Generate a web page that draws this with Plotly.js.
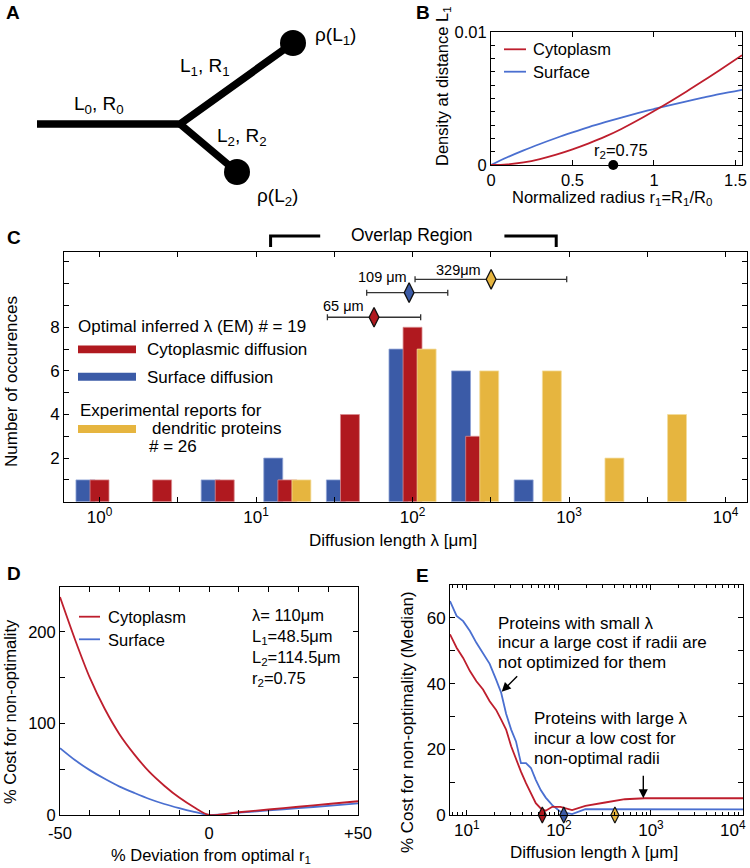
<!DOCTYPE html>
<html><head><meta charset="utf-8">
<script src="https://cdn.plot.ly/plotly-3.0.1.min.js"></script>
<style>html,body{margin:0;padding:0;background:#fff}#chart{width:750px;height:868px}</style>
</head><body><div id="chart"></div>
<script>
// ---------- Panel A (schematic) ----------
const diagramX = [37, 180, 293, null, 180, 237];
const diagramY = [124, 124, 43, null, 124, 172];
const tipX = [293, 237];
const tipY = [43, 172];

// ---------- Panel B ----------
const radiusB   = [0, 0.1, 0.2, 0.3, 0.4, 0.5, 0.6, 0.7, 0.8, 0.9, 1.0, 1.1, 1.2, 1.3, 1.4, 1.54];
const densCytB  = [0, 0.00005, 0.0002, 0.00045, 0.00078, 0.00118, 0.00163, 0.00213, 0.00271, 0.00336, 0.00406, 0.00478, 0.00553, 0.00631, 0.00711, 0.00825];
const densSurfB = [0, 0.00058, 0.0011, 0.00158, 0.00203, 0.00245, 0.00285, 0.00322, 0.00357, 0.0039, 0.00421, 0.00451, 0.00479, 0.00506, 0.00532, 0.00565];
const r2Value = 0.75;

// ---------- Panel C ----------
const binLog10   = [0, 0.4, 0.8, 1.2, 1.6, 2.0, 2.4, 2.8, 3.2, 3.6];
const countSurf  = [1, null, 1, 2, 1, 7, 6, 1, null, null];
const countCyt   = [1, 1, 1, 1, 4, 8, 3, null, null, null];
const countExp   = [null, null, null, 1, null, 7, 6, 6, 2, 4];
const optNames   = ['Cytoplasm', 'Surface', 'Experimental'];
const optLog10   = [1.754, 1.978, 2.502];
const optLowLog10  = [1.456, 1.707, 2.016];
const optHighLog10 = [2.052, 2.225, 2.985];
const optRow     = [8.46, 9.59, 10.2];
const optLabels  = ['65 μm', '109 μm', '329μm'];
const overlapLog10 = [1.093, 2.918];

// ---------- Panel D ----------
const devD  = [-50, -45, -40, -35, -30, -25, -20, -15, -10, -5, 0, 10, 20, 30, 40, 50];
const costCytD  = [238, 192, 150, 116, 88, 66, 47, 32, 19, 8.5, 0, 3, 6, 9, 12, 15];
const costSurfD = [73, 60, 49, 39.5, 31, 24, 17.5, 12, 7.5, 3.5, 0, 2.5, 5, 7.5, 10, 12.7];

// ---------- Panel E ----------
const lambdaE = [6.56, 7.74, 9.12, 10.8, 12.7, 15.0, 17.7, 20.8, 23.6, 26.7, 30.3, 34.2, 38.7, 43.9, 49.7, 56.1, 63.5, 71.9, 84.7, 104, 139, 194, 318, 521, 855, 10000];
const costCytE  = [55, 50.9, 47.8, 43.8, 40.7, 38.2, 34.6, 32, 29, 26, 20.9, 16.8, 13.2, 9.7, 6.6, 3.6, 2, 1.3, 2.5, 2.5, 1.5, 2.8, 3.8, 4.8, 5.1, 5.1];
const costSurfE = [65.1, 60.6, 59, 56, 52.4, 49, 46, 41.2, 37.2, 30.8, 26, 22.4, 15.8, 15.8, 14.3, 10.7, 7.6, 5.3, 3, 1.0, 0.3, 1.8, 1.8, 1.7, 1.7, 1.7];
const optLambdaE = [66, 113, 406];
const decadesE = [10, 100, 1000, 10000];

// ---------- styling ----------
const W = 750, H = 868;
const px = v => v / W;
const py = v => 1 - v / H;
const FONT = 'Liberation Sans, Arial, Helvetica, sans-serif';
const LRED = '#BE1E2D', LBLUE = '#4A6FD0';
const BRED = '#B0191F', BBLUE = '#3B5BA7', BYEL = '#E6B53F';
const diaColors = [BRED, BBLUE, BYEL];

const traces = [];
// A
traces.push({x: diagramX, y: diagramY, xaxis: 'x5', yaxis: 'y5', mode: 'lines',
  line: {color: '#000', width: 7.5}, hoverinfo: 'skip', showlegend: false});
traces.push({x: tipX, y: tipY, xaxis: 'x5', yaxis: 'y5', mode: 'markers',
  marker: {color: '#000', size: 26}, hoverinfo: 'skip', showlegend: false});
// B
traces.push({x: radiusB, y: densSurfB, xaxis: 'x', yaxis: 'y', mode: 'lines', line: {color: LBLUE, width: 1.8, shape: 'spline'}, showlegend: false});
traces.push({x: radiusB, y: densCytB, xaxis: 'x', yaxis: 'y', mode: 'lines', line: {color: LRED, width: 1.8, shape: 'spline'}, showlegend: false});
traces.push({x: [r2Value], y: [0], xaxis: 'x', yaxis: 'y', mode: 'markers', marker: {color: '#000', size: 10}, cliponaxis: false, showlegend: false});
// C bars
const bw = 0.121;
traces.push({type: 'bar', x: binLog10, y: countSurf, xaxis: 'x2', yaxis: 'y2', width: bw, offset: -0.09 - bw / 2,
  marker: {color: BBLUE, line: {color: '#8fa3d6', width: 0.8}}, showlegend: false});
traces.push({type: 'bar', x: binLog10, y: countCyt, xaxis: 'x2', yaxis: 'y2', width: bw, offset: -bw / 2,
  marker: {color: BRED, line: {color: '#d98a8e', width: 0.8}}, showlegend: false});
traces.push({type: 'bar', x: binLog10, y: countExp, xaxis: 'x2', yaxis: 'y2', width: bw, offset: 0.09 - bw / 2,
  marker: {color: BYEL, line: {color: '#f3dc9c', width: 0.8}}, showlegend: false});
// C diamonds with ranges
traces.push({x: optLog10, y: optRow, xaxis: 'x2', yaxis: 'y2', mode: 'markers', cliponaxis: false,
  error_x: {type: 'data', symmetric: false,
    array: optHighLog10.map((h, i) => h - optLog10[i]),
    arrayminus: optLowLog10.map((l, i) => optLog10[i] - l),
    color: '#333', thickness: 1.3, width: 3},
  marker: {symbol: 'diamond-tall', size: 14, color: diaColors, line: {color: '#111', width: 1.3}}, showlegend: false});
// D
traces.push({x: devD, y: costSurfD, xaxis: 'x3', yaxis: 'y3', mode: 'lines', line: {color: LBLUE, width: 1.8, shape: 'spline', smoothing: 0.8}, showlegend: false});
traces.push({x: devD, y: costCytD, xaxis: 'x3', yaxis: 'y3', mode: 'lines', line: {color: LRED, width: 1.8, shape: 'spline', smoothing: 0.8}, showlegend: false});
// E
traces.push({x: lambdaE, y: costSurfE, xaxis: 'x4', yaxis: 'y4', mode: 'lines', line: {color: LBLUE, width: 1.8}, showlegend: false});
traces.push({x: lambdaE, y: costCytE, xaxis: 'x4', yaxis: 'y4', mode: 'lines', line: {color: LRED, width: 1.8}, showlegend: false});
traces.push({x: optLambdaE, y: [0, 0, 0], xaxis: 'x4', yaxis: 'y4', mode: 'markers', cliponaxis: false,
  marker: {symbol: 'diamond-tall', size: 11.5, color: diaColors, line: {color: '#111', width: 1.2}}, showlegend: false});

const axBase = {showline: true, linecolor: '#000', linewidth: 1, mirror: 'ticks', ticks: 'inside', ticklen: 5,
  tickcolor: '#000', showgrid: false, zeroline: false, fixedrange: true,
  tickfont: {family: FONT, size: 16.5, color: '#000'}};
const range = (a, b, s) => { const r = []; for (let v = a; v <= b + 1e-9; v += s) r.push(+v.toFixed(6)); return r; };

const yTicksB = range(0, 0.01, 0.001);
const xTicksC = range(0, 4, 0.5);
const yTicksC = range(1, 11, 1);
const xTicksD = range(-50, 50, 10);
const yTicksD = range(0, 250, 50);
const yTicksE = range(0, 70, 10);
const minorE = [];
[1, 10, 100, 1000].forEach(d => { for (let k = 2; k <= 9; k++) minorE.push(k * d); });

const layout = {
  width: W, height: H, margin: {l: 0, r: 0, t: 0, b: 0}, paper_bgcolor: '#fff', plot_bgcolor: '#fff',
  barmode: 'overlay', showlegend: false, font: {family: FONT, color: '#000'},
  // B
  xaxis: Object.assign({}, axBase, {domain: [px(491), px(742)], range: [0, 1.54], anchor: 'y',
    tickvals: [0, 0.5, 1, 1.5], ticktext: ['0', '0.5', '1', '1.5']}),
  yaxis: Object.assign({}, axBase, {domain: [py(165), py(32)], range: [0, 0.01], anchor: 'x',
    tickvals: yTicksB, ticktext: yTicksB.map(v => v === 0 ? '0' : (Math.abs(v - 0.01) < 1e-9 ? '0.01' : '')), ticklen: 4}),
  // C
  xaxis2: Object.assign({}, axBase, {domain: [px(64), px(747)], range: [-0.227, 4.137], anchor: 'y2',
    tickvals: xTicksC, ticktext: xTicksC.map(v => Number.isInteger(v) ? '10<sup>' + v + '</sup>' : ''),
    tickfont: {family: FONT, size: 17, color: '#000'}}),
  yaxis2: Object.assign({}, axBase, {domain: [py(501.7), py(252.3)], range: [0, 11.44], anchor: 'x2',
    tickvals: yTicksC, ticktext: yTicksC.map(v => [2, 4, 6, 8].includes(v) ? String(v) : ''),
    tickfont: {family: FONT, size: 17, color: '#000'}}),
  // D
  xaxis3: Object.assign({}, axBase, {domain: [px(60), px(358)], range: [-50, 50], anchor: 'y3',
    tickvals: xTicksD, ticktext: xTicksD.map(v => v === -50 ? '-50' : v === 0 ? '0' : v === 50 ? '+50' : ''),
    ticklabelstandoff: 3}),
  yaxis3: Object.assign({}, axBase, {domain: [py(815), py(587)], range: [0, 249], anchor: 'x3',
    tickvals: yTicksD, ticktext: yTicksD.map(v => [0, 100, 200].includes(v) ? String(v) : '')}),
  // E
  xaxis4: Object.assign({}, axBase, {domain: [px(450), px(743)], type: 'log', range: [0.817, 4.0], anchor: 'y4',
    tickvals: decadesE, ticktext: decadesE.map(d => d === 10000 ? '' : '10<sup>' + Math.round(Math.log10(d)) + '</sup>'),
    tickfont: {family: FONT, size: 17, color: '#000'},
    minor: {tickvals: minorE, ticks: 'inside', ticklen: 3, tickcolor: '#000', showgrid: false}}),
  yaxis4: Object.assign({}, axBase, {domain: [py(815), py(585)], range: [0, 70], anchor: 'x4',
    tickvals: yTicksE, ticktext: yTicksE.map(v => [0, 20, 40, 60].includes(v) ? String(v) : ''),
    tickfont: {family: FONT, size: 17, color: '#000'}}),
  // A (hidden)
  xaxis5: {domain: [0, px(380)], range: [0, 380], visible: false, fixedrange: true, anchor: 'y5'},
  yaxis5: {domain: [py(215), 1], range: [215, 0], visible: false, fixedrange: true, anchor: 'x5'},
  annotations: [], shapes: []
};

function txt(text, x, y, o) {
  o = o || {};
  layout.annotations.push({text: text, xref: 'paper', yref: 'paper', x: px(x), y: py(y), showarrow: false,
    xanchor: o.xa || 'center', yanchor: o.ya || 'middle', textangle: o.angle || 0,
    font: {family: FONT, size: o.size || 16.5, color: '#000', weight: o.bold ? 'bold' : 'normal'}});
}
function seg(x0, y0, x1, y1, color, width) {
  layout.shapes.push({type: 'line', xref: 'paper', yref: 'paper', x0: px(x0), y0: py(y0), x1: px(x1), y1: py(y1),
    line: {color: color, width: width}});
}
function box(x0, y0, x1, y1, color) {
  layout.shapes.push({type: 'rect', xref: 'paper', yref: 'paper', x0: px(x0), y0: py(y0), x1: px(x1), y1: py(y1),
    fillcolor: color, line: {width: 0}});
}

// panel letters
txt('A', 13, 12, {bold: true, size: 19});
txt('B', 423, 12, {bold: true, size: 19});
txt('C', 14, 237, {bold: true, size: 19});
txt('D', 14, 573, {bold: true, size: 19});
txt('E', 423, 575, {bold: true, size: 19});

// A labels
[['ρ(L<sub>1</sub>)', 335, 36], ['L<sub>1</sub>, R<sub>1</sub>', 205, 67], ['L<sub>0</sub>, R<sub>0</sub>', 99, 105],
 ['L<sub>2</sub>, R<sub>2</sub>', 242, 137], ['ρ(L<sub>2</sub>)', 277, 197]].forEach(a => txt(a[0], a[1], a[2], {size: 19}));

// B
txt('Density at distance L<sub>1</sub>', 443, 86, {angle: -90, size: 16.5});
txt('Normalized radius r<sub>1</sub>=R<sub>1</sub>/R<sub>0</sub>', 612, 198, {size: 16.5});
seg(504, 49.3, 526, 49.3, LRED, 1.8); txt('Cytoplasm', 531, 49, {xa: 'left'});
seg(504, 71.7, 526, 71.7, LBLUE, 1.8); txt('Surface', 531, 72, {xa: 'left'});
txt('r<sub>2</sub>=0.75', 621, 151, {size: 16.5});

// C
txt('Number of occurences', 12, 382, {angle: -90, size: 17});
txt('Diffusion length λ [μm]', 393, 540, {size: 17});
txt('Overlap Region', 412, 235, {size: 17.5});
layout.shapes.push({type: 'path', xref: 'x2', yref: 'paper',
  path: 'M' + overlapLog10[0] + ',' + py(247) + ' L' + overlapLog10[0] + ',' + py(236) + ' L1.41,' + py(236),
  line: {color: '#000', width: 3}});
layout.shapes.push({type: 'path', xref: 'x2', yref: 'paper',
  path: 'M2.587,' + py(236) + ' L' + overlapLog10[1] + ',' + py(236) + ' L' + overlapLog10[1] + ',' + py(247),
  line: {color: '#000', width: 3}});
optLabels.forEach((t, i) => {
  layout.annotations.push({text: t, xref: 'paper', yref: 'paper', showarrow: false,
    x: px([343, 382, 458][i]), y: py([306, 277, 270][i]), xanchor: 'center', yanchor: 'middle',
    font: {family: FONT, size: 14.5, color: '#000'}});
});
txt('Optimal inferred λ (EM) # = 19', 76, 327, {xa: 'left', size: 17});
box(78, 345.5, 136, 353.3, BRED); txt('Cytoplasmic diffusion', 145, 349, {xa: 'left', size: 17});
box(78, 372.7, 136, 380.7, BBLUE); txt('Surface diffusion', 145, 377, {xa: 'left', size: 17});
txt('Experimental reports for', 78, 410, {xa: 'left', size: 17});
box(78, 425, 136, 433, BYEL); txt('dendritic proteins', 150, 428, {xa: 'left', size: 17});
txt('# = 26', 147, 446, {xa: 'left', size: 17});

// D
txt('% Cost for non-optimality', 10, 712, {angle: -90, size: 16.5});
txt('% Deviation from optimal r<sub>1</sub>', 211, 856, {size: 16.5});
seg(79, 616.7, 100, 616.7, LRED, 1.8); txt('Cytoplasm', 106, 617, {xa: 'left'});
seg(79, 639.3, 100, 639.3, LBLUE, 1.8); txt('Surface', 106, 640, {xa: 'left'});
txt('λ= 110μm', 250, 615, {xa: 'left'});
txt('L<sub>1</sub>=48.5μm', 250, 637, {xa: 'left'});
txt('L<sub>2</sub>=114.5μm', 250, 658, {xa: 'left'});
txt('r<sub>2</sub>=0.75', 250, 679, {xa: 'left'});

// E
txt('% Cost for non-optimality (Median)', 407, 722, {angle: -90, size: 17});
txt('Diffusion length λ [μm]', 594, 852, {size: 17});
txt('10<sup>4</sup>', 733, 829, {size: 17});
txt('Proteins with small λ', 496, 623, {xa: 'left', size: 17});
txt('incur a large cost if radii are', 496, 642, {xa: 'left', size: 17});
txt('not optimized for them', 496, 662, {xa: 'left', size: 17});
txt('Proteins with large λ', 532, 718, {xa: 'left', size: 17});
txt('incur a low cost for', 532, 738, {xa: 'left', size: 17});
txt('non-optimal radii', 532, 758, {xa: 'left', size: 17});
layout.annotations.push({text: '', xref: 'paper', yref: 'paper', x: px(501.7), y: py(691.7), ax: 17, ay: -17,
  showarrow: true, arrowhead: 2, arrowsize: 1.3, arrowwidth: 1.4, arrowcolor: '#000'});
layout.annotations.push({text: '', xref: 'paper', yref: 'paper', x: px(643.3), y: py(798.3), ax: 0, ay: -24,
  showarrow: true, arrowhead: 2, arrowsize: 1.3, arrowwidth: 1.4, arrowcolor: '#000'});

Plotly.newPlot('chart', traces, layout, {staticPlot: true, displayModeBar: false});
</script>
</body></html>
